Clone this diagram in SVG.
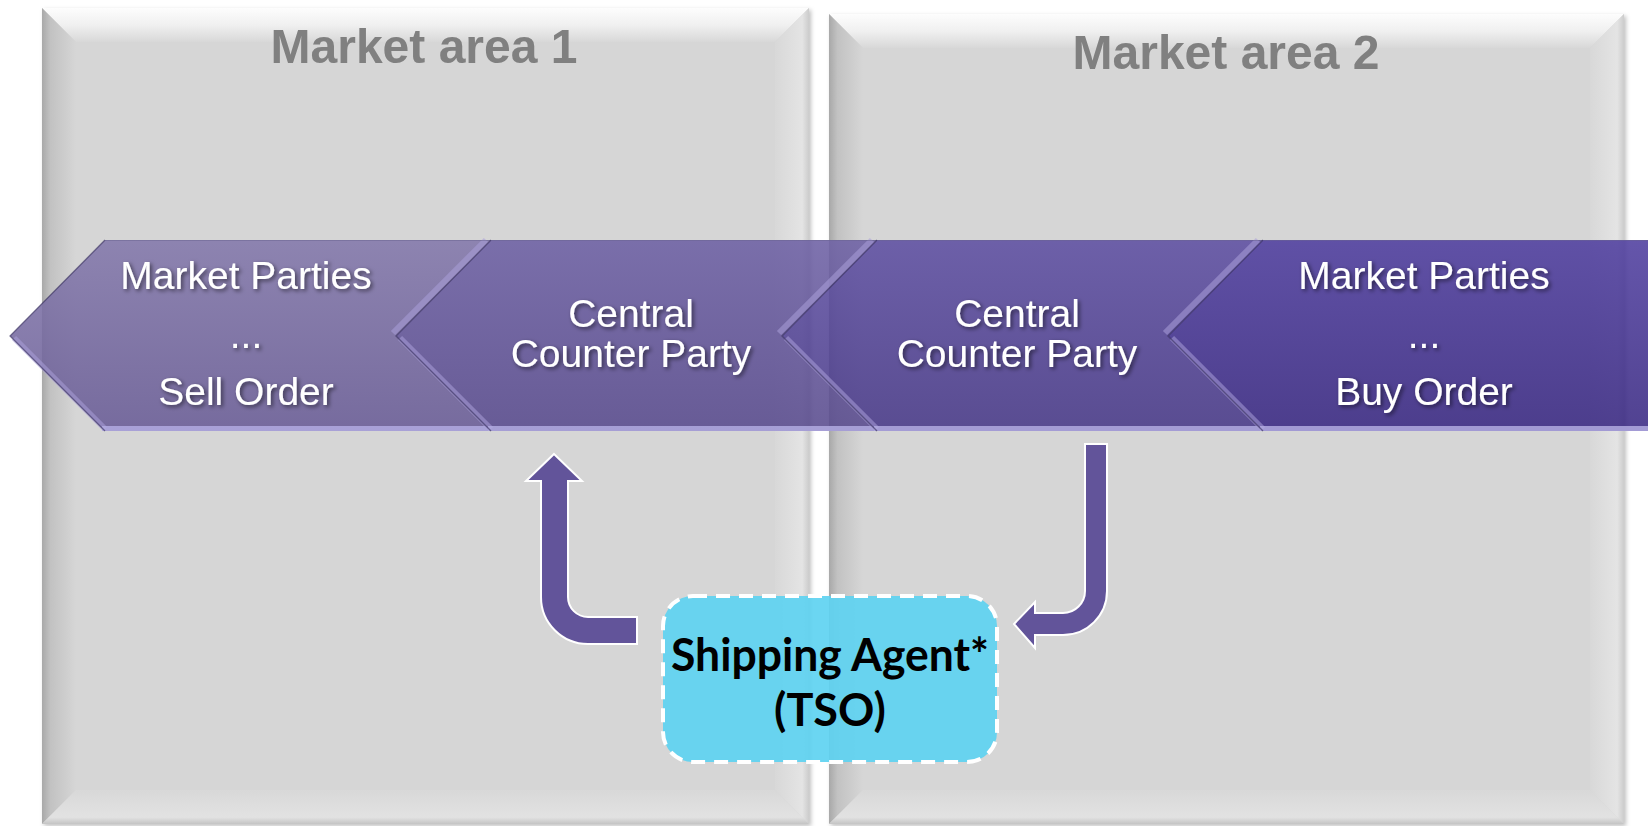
<svg xmlns="http://www.w3.org/2000/svg" width="1648" height="826" viewBox="0 0 1648 826">
<defs>
<style>
.title{font-family:"Liberation Sans",Arial,sans-serif;font-weight:bold;font-size:48px;fill:#808080;text-anchor:middle}
.ctext{font-family:"Liberation Sans",Arial,sans-serif;font-size:39px;fill:#ffffff;text-anchor:middle;filter:url(#tshadow)}
.stext{font-family:Lato,"Open Sans","Liberation Sans",sans-serif;font-weight:bold;font-size:45px;fill:#000000;text-anchor:middle}
.panelbase{fill:#d6d6d6}
.chev{fill-opacity:0.88}
.bev{stroke:#a99fd8;stroke-opacity:0.55;stroke-width:6;fill:none}
.bot{stroke:#b2aae0;stroke-opacity:0.85;stroke-width:5;fill:none}
.edge{stroke:#2f2656;stroke-opacity:0.6;stroke-width:1.3;fill:none}
.topline{stroke:#6a6490;stroke-opacity:0.5;stroke-width:1.2;fill:none}
.arrow{fill:#62549a;stroke:#ffffff;stroke-width:2}
</style>
<filter id="tshadow" x="-10%" y="-30%" width="120%" height="160%">
<feDropShadow dx="2" dy="2" stdDeviation="2" flood-color="#000000" flood-opacity="0.55"/>
</filter>
<filter id="pshadow" x="-5%" y="-5%" width="110%" height="110%">
<feDropShadow dx="2" dy="2" stdDeviation="2" flood-color="#000000" flood-opacity="0.25"/>
</filter>
<linearGradient id="topBev" x1="0" y1="0" x2="0" y2="1">
<stop offset="0" stop-color="#fdfdfd"/>
<stop offset="0.5" stop-color="#f0f0f0"/>
<stop offset="1" stop-color="#d8d8d8"/>
</linearGradient>
<linearGradient id="leftBev" x1="0" y1="0" x2="1" y2="0">
<stop offset="0" stop-color="#a8a8a8"/>
<stop offset="0.25" stop-color="#c2c2c2"/>
<stop offset="1" stop-color="#d6d6d6"/>
</linearGradient>
<linearGradient id="rightBev" x1="0" y1="0" x2="1" y2="0">
<stop offset="0" stop-color="#d8d8d8"/>
<stop offset="0.8" stop-color="#e4e4e4"/>
<stop offset="1" stop-color="#cccccc"/>
</linearGradient>
<linearGradient id="botBev" x1="0" y1="0" x2="0" y2="1">
<stop offset="0" stop-color="#d8d8d8"/>
<stop offset="0.8" stop-color="#e2e2e2"/>
<stop offset="1" stop-color="#c4c4c4"/>
</linearGradient>
<linearGradient id="g1" x1="0" y1="0" x2="0" y2="1">
<stop offset="0" stop-color="#8378ab"/>
<stop offset="1" stop-color="#695c96"/>
</linearGradient>
<linearGradient id="g2" x1="0" y1="0" x2="0" y2="1">
<stop offset="0" stop-color="#6d60a4"/>
<stop offset="1" stop-color="#584a8d"/>
</linearGradient>
<linearGradient id="g3" x1="0" y1="0" x2="0" y2="1">
<stop offset="0" stop-color="#5e4fa2"/>
<stop offset="1" stop-color="#483988"/>
</linearGradient>
<linearGradient id="g4" x1="0" y1="0" x2="0" y2="1">
<stop offset="0" stop-color="#4f3e9f"/>
<stop offset="1" stop-color="#392882"/>
</linearGradient>
</defs>
<rect x="0" y="0" width="1648" height="826" fill="#ffffff"/>

<g id="panel-market-area-1" filter="url(#pshadow)">
<rect class="panelbase" x="42" y="8" width="767" height="816"/>
<polygon points="42,8 809,8 775,42 76,42" fill="url(#topBev)"/>
<polygon points="42,8 76,42 76,790 42,824" fill="url(#leftBev)"/>
<polygon points="809,8 809,824 775,790 775,42" fill="url(#rightBev)"/>
<polygon points="42,824 76,790 775,790 809,824" fill="url(#botBev)"/>
<text class="title" x="424" y="63">Market area 1</text>
</g>

<g id="panel-market-area-2" filter="url(#pshadow)">
<rect class="panelbase" x="829" y="14" width="795" height="810"/>
<polygon points="829,14 1624,14 1590,48 863,48" fill="url(#topBev)"/>
<polygon points="829,14 863,48 863,790 829,824" fill="url(#leftBev)"/>
<polygon points="1624,14 1624,824 1590,790 1590,48" fill="url(#rightBev)"/>
<polygon points="829,824 863,790 1590,790 1624,824" fill="url(#botBev)"/>
<text class="title" x="1226" y="69">Market area 2</text>
</g>

<g id="chevron-market-parties-sell">
<polygon class="chev" fill="url(#g1)" points="10,336 105,240 491,240 396,336 491,431 105,431"/>
<line class="bev" x1="393" y1="333" x2="486" y2="240"/>
<line class="bev" x1="14" y1="338" x2="105" y2="429"/>
<line class="bot" x1="102" y1="428.5" x2="489" y2="428.5"/>
<polyline class="edge" points="105,240 10,336 105,431"/>
<line class="topline" x1="105" y1="240.5" x2="491" y2="240.5"/>
<text class="ctext" x="246" y="289">Market Parties</text>
<text class="ctext" x="246" y="348">...</text>
<text class="ctext" x="246" y="405">Sell Order</text>
</g>

<g id="chevron-ccp-1">
<polygon class="chev" fill="url(#g2)" points="396,336 491,240 877,240 782,336 877,431 491,431"/>
<line class="bev" x1="779" y1="333" x2="872" y2="240"/>
<line class="bev" x1="400" y1="338" x2="491" y2="429"/>
<line class="bot" x1="488" y1="428.5" x2="875" y2="428.5"/>
<polyline class="edge" points="491,240 396,336 491,431"/>
<line class="topline" x1="491" y1="240.5" x2="877" y2="240.5"/>
<text class="ctext" x="631" y="327">Central</text>
<text class="ctext" x="631" y="367">Counter Party</text>
</g>

<g id="chevron-ccp-2">
<polygon class="chev" fill="url(#g3)" points="782,336 877,240 1263,240 1168,336 1263,431 877,431"/>
<line class="bev" x1="1165" y1="333" x2="1258" y2="240"/>
<line class="bev" x1="786" y1="338" x2="877" y2="429"/>
<line class="bot" x1="874" y1="428.5" x2="1261" y2="428.5"/>
<polyline class="edge" points="877,240 782,336 877,431"/>
<line class="topline" x1="877" y1="240.5" x2="1263" y2="240.5"/>
<text class="ctext" x="1017" y="327">Central</text>
<text class="ctext" x="1017" y="367">Counter Party</text>
</g>

<g id="chevron-market-parties-buy">
<polygon class="chev" fill="url(#g4)" points="1168,336 1263,240 1660,240 1660,431 1263,431"/>
<line class="bev" x1="1172" y1="338" x2="1263" y2="429"/>
<line class="bot" x1="1260" y1="428.5" x2="1660" y2="428.5"/>
<polyline class="edge" points="1263,240 1168,336 1263,431"/>
<line class="topline" x1="1263" y1="240.5" x2="1660" y2="240.5"/>
<text class="ctext" x="1424" y="289">Market Parties</text>
<text class="ctext" x="1424" y="348">...</text>
<text class="ctext" x="1424" y="405">Buy Order</text>
</g>

<g id="connectors">
<path class="arrow" d="M554,454 L582,481 L568,481 L568,597 A20,20 0 0 0 588,617 L637,617 L637,644 L588,644 A47,47 0 0 1 541,597 L541,481 L526,481 Z"/>
<path class="arrow" d="M1085,444 L1107,444 L1107,591 A44,44 0 0 1 1063,635 L1035,635 L1035,648 L1014,624 L1035,602 L1035,613 L1063,613 A22,22 0 0 0 1085,591 Z"/>
</g>

<g id="shipping-agent">
<rect x="663" y="596" width="334" height="166" rx="30" ry="30" fill="#5ed3f1" fill-opacity="0.92" stroke="#ffffff" stroke-width="4" stroke-dasharray="14 9"/>
<text class="stext" x="830" y="671" textLength="318" lengthAdjust="spacingAndGlyphs">Shipping Agent*</text>
<text class="stext" x="830" y="726">(TSO)</text>
</g>
</svg>
